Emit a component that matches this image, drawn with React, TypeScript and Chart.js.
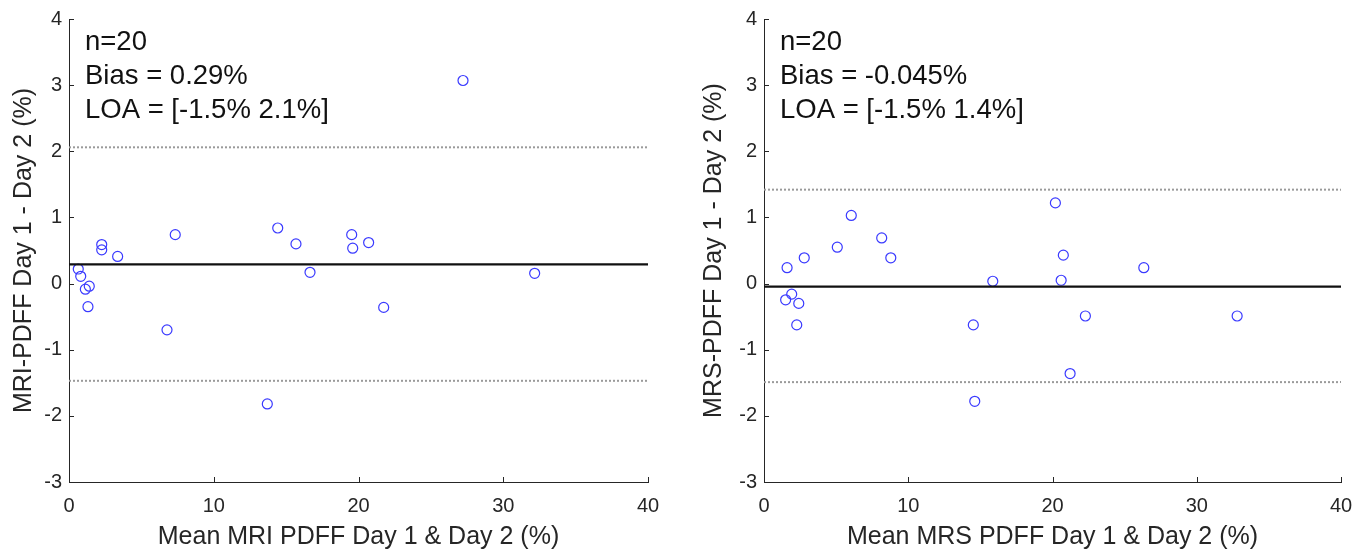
import React, { useEffect, useRef } from "react";
import { Chart, registerables } from "chart.js";

Chart.register(...registerables);

// ---- Data ----
const mriMean = [0.64, 0.81, 1.4, 1.13, 1.31, 2.26, 2.26, 3.36, 7.34, 6.77, 14.42, 15.68, 16.65, 19.53, 19.6, 13.7, 27.22, 20.7, 32.17, 21.74];
const mriDiff = [0.22, 0.11, -0.04, -0.085, -0.35, 0.59, 0.51, 0.41, 0.74, -0.7, 0.84, 0.6, 0.17, 0.74, 0.535, -1.82, 3.07, 0.62, 0.155, -0.36];
const mriBias = 0.29;
const mriLoa = [-1.47, 2.06];
const mriText = ["n=20", "Bias = 0.29%", "LOA = [-1.5% 2.1%]"];

const mrsMean = [1.6, 1.92, 1.5, 2.41, 2.27, 2.79, 5.08, 6.05, 8.16, 8.79, 15.86, 14.51, 14.61, 20.2, 20.75, 20.6, 22.28, 32.8, 21.22, 26.33];
const mrsDiff = [0.24, -0.16, -0.245, -0.3, -0.625, 0.39, 0.55, 1.03, 0.69, 0.39, 0.035, -0.625, -1.78, 1.22, 0.43, 0.05, -0.49, -0.49, -1.36, 0.24];
const mrsBias = -0.045;
const mrsLoa = [-1.49, 1.42];
const mrsText = ["n=20", "Bias = -0.045%", "LOA = [-1.5% 1.4%]"];

const xRange = [0, 40];
const yRange = [-3, 4];

const FONT = "'Liberation Sans', Arial, Helvetica, sans-serif";
const AXIS_COLOR = "#262626";

const innerTicks = {
  id: "innerTicks",
  afterDraw(chart: any) {
    const { ctx, chartArea, scales } = chart;
    const len = 5;
    ctx.save();
    ctx.strokeStyle = AXIS_COLOR;
    ctx.lineWidth = 1;
    ctx.beginPath();
    scales.x.ticks.forEach((t: any) => {
      const px = Math.round(scales.x.getPixelForValue(t.value)) + 0.5;
      ctx.moveTo(px, chartArea.bottom);
      ctx.lineTo(px, chartArea.bottom - len);
    });
    scales.y.ticks.forEach((t: any) => {
      const py = Math.round(scales.y.getPixelForValue(t.value)) + 0.5;
      ctx.moveTo(chartArea.left, py);
      ctx.lineTo(chartArea.left + len, py);
    });
    ctx.stroke();
    ctx.restore();
  },
};

const annotationText = {
  id: "annotationText",
  afterDraw(chart: any, _args: any, opts: any) {
    const { ctx, chartArea } = chart;
    ctx.save();
    ctx.fillStyle = "#111";
    ctx.font = `27.5px ${FONT}`;
    ctx.textBaseline = "alphabetic";
    ctx.textAlign = "left";
    const lines: string[] = opts.lines || [];
    lines.forEach((s, i) => {
      ctx.fillText(s, chartArea.left + 16, chartArea.top + 30.5 + i * 34.2);
    });
    ctx.restore();
  },
};

function makeConfig(
  xs: number[],
  ys: number[],
  bias: number,
  loa: number[],
  lines: string[],
  xTitle: string,
  yTitle: string,
  yWidth: number,
  padRight: number
): any {
  const pts = xs.map((x, i) => ({ x, y: ys[i] }));
  const hline = (v: number) => [
    { x: xRange[0], y: v },
    { x: xRange[1], y: v },
  ];
  return {
    type: "scatter",
    data: {
      datasets: [
        {
          type: "line",
          data: hline(loa[0]),
          borderColor: "#9a9a9a",
          borderWidth: 2,
          borderDash: [2, 2],
          pointRadius: 0,
          fill: false,
        },
        {
          type: "line",
          data: hline(loa[1]),
          borderColor: "#9a9a9a",
          borderWidth: 2,
          borderDash: [2, 2],
          pointRadius: 0,
          fill: false,
        },
        {
          type: "line",
          data: hline(bias),
          borderColor: "#111",
          borderWidth: 2.2,
          pointRadius: 0,
          fill: false,
        },
        {
          data: pts,
          pointStyle: "circle",
          pointRadius: 5,
          pointBorderWidth: 1.2,
          pointBorderColor: "#3a3aff",
          pointBackgroundColor: "rgba(0,0,0,0)",
          showLine: false,
        },
      ],
    },
    options: {
      responsive: false,
      animation: false,
      events: [],
      layout: { padding: { top: 16, left: 0, right: padRight, bottom: 0 } },
      plugins: {
        legend: { display: false },
        tooltip: { enabled: false },
        annotationText: { lines },
      },
      scales: {
        x: {
          type: "linear",
          min: xRange[0],
          max: xRange[1],
          ticks: {
            stepSize: 10,
            color: AXIS_COLOR,
            font: { family: FONT, size: 20 },
            padding: 12,
            maxRotation: 0,
          },
          grid: { display: false, drawTicks: false },
          border: { display: true, color: AXIS_COLOR, width: 1 },
          title: {
            display: true,
            text: xTitle,
            color: AXIS_COLOR,
            font: { family: FONT, size: 25 },
            padding: { top: 0, bottom: 1 },
          },
          afterFit: (s: any) => {
            s.height = 71;
          },
        },
        y: {
          type: "linear",
          min: yRange[0],
          max: yRange[1],
          ticks: {
            stepSize: 1,
            color: AXIS_COLOR,
            font: { family: FONT, size: 20 },
            padding: 7,
          },
          grid: { display: false, drawTicks: false },
          border: { display: true, color: AXIS_COLOR, width: 1 },
          title: {
            display: true,
            text: yTitle,
            color: AXIS_COLOR,
            font: { family: FONT, size: 25 },
            padding: { top: 9, bottom: 0 },
          },
          afterFit: (s: any) => {
            s.width = yWidth;
          },
        },
      },
    },
    plugins: [innerTicks, annotationText],
  };
}

function Panel(props: { config: any; left: number; width: number }) {
  const ref = useRef<HTMLCanvasElement | null>(null);
  useEffect(() => {
    if (!ref.current) return;
    const chart = new Chart(ref.current, props.config);
    return () => chart.destroy();
  }, []);
  return (
    <canvas
      ref={ref}
      width={props.width}
      height={553}
      style={{ position: "absolute", left: props.left, top: 0, width: props.width, height: 553 }}
    />
  );
}

export default function App() {
  const leftCfg = makeConfig(
    mriMean,
    mriDiff,
    mriBias,
    mriLoa,
    mriText,
    "Mean MRI PDFF Day 1 & Day 2 (%)",
    "MRI-PDFF Day 1 - Day 2 (%)",
    69,
    42
  );
  const rightCfg = makeConfig(
    mrsMean,
    mrsDiff,
    mrsBias,
    mrsLoa,
    mrsText,
    "Mean MRS PDFF Day 1 & Day 2 (%)",
    "MRS-PDFF Day 1 - Day 2 (%)",
    74,
    30
  );
  return (
    <div style={{ position: "absolute", left: 0, top: 0, width: 1371, height: 553, background: "#fff" }}>
      <Panel config={leftCfg} left={0} width={690} />
      <Panel config={rightCfg} left={690} width={681} />
    </div>
  );
}
